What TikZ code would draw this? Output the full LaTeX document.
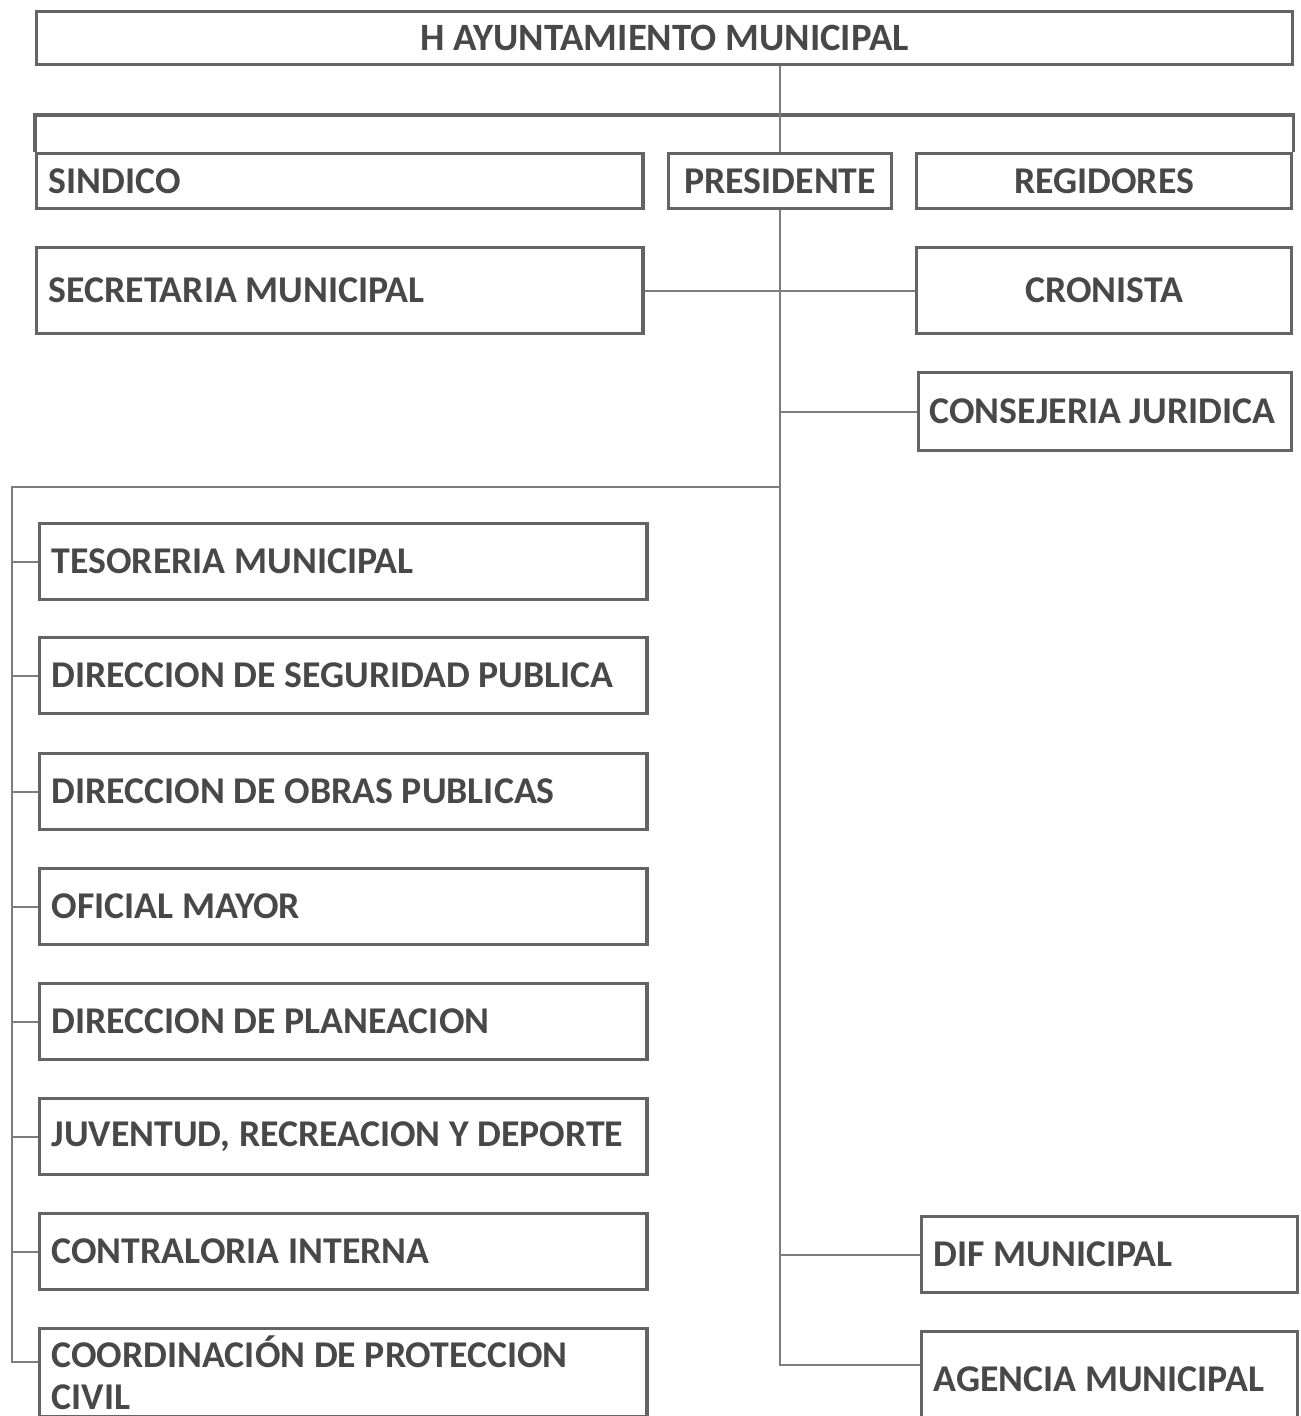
\documentclass[tikz,border=0pt]{standalone}
\usepackage{fontspec}
\setmainfont{Carlito}
\usepackage{xcolor}
\usepackage{tikz}
\definecolor{inkgray}{RGB}{72,72,72}
\definecolor{boxgray}{RGB}{100,100,100}
\definecolor{linegray}{RGB}{125,125,125}

\begin{document}
\begin{tikzpicture}[x=0.01cm, y=-0.01cm,
  box/.style={draw=boxgray, line width=0.9pt, text=inkgray,
    font=\bfseries\fontsize{10.75}{12.5}\selectfont, inner sep=0pt, anchor=north west},
  cbox/.style={box, align=center},
  lbox/.style={box, align=flush left, inner xsep=0.12cm},
  link/.style={draw=linegray, line width=0.6pt}]
  \useasboundingbox (0,0) rectangle (1301,1416);
  \clip (0,0) rectangle (1301,1416);

  % Ayuntamiento and first row
  \node[cbox, minimum width=12.55cm, minimum height=0.53cm,
    font=\bfseries\fontsize{11}{12.5}\selectfont] (ayunt) at (35,10)
    {H AYUNTAMIENTO MUNICIPAL};
  \node[lbox, text width=5.82cm, minimum height=0.55cm] (sindico) at (35,152) {SINDICO};
  \node[cbox, minimum width=2.23cm, minimum height=0.55cm] (presidente) at (667,152) {PRESIDENTE};
  \node[cbox, minimum width=3.75cm, minimum height=0.55cm] (regidores) at (915,152) {REGIDORES};
  \coordinate (frame) at (0,115);
  \draw[draw=boxgray, line width=0.9pt]
    (sindico.north west) -- (sindico.north west |- frame) -| (regidores.north east);
  \draw[link] (ayunt.south -| presidente.north) -- (presidente.north);

  % Secretaria, cronista, consejeria
  \node[lbox, text width=5.82cm, minimum height=0.86cm] (secretaria) at (35,246) {SECRETARIA MUNICIPAL};
  \node[cbox, minimum width=3.75cm, minimum height=0.86cm] (cronista) at (915,246) {CRONISTA};
  \node[lbox, inner xsep=0.11cm, text width=3.51cm, minimum height=0.78cm] (consejeria) at (917,371)
    {CONSEJERIA JURIDICA};
  \draw[link] (secretaria.east) -- (secretaria.east -| cronista.west);
  \draw[link] (presidente.south |- consejeria.west) -- (consejeria.west);

  % Left column
  \coordinate (bus) at (12,487);
  \foreach \y/\name/\txt in {522/tesoreria/TESORERIA MUNICIPAL,
      636/seguridad/DIRECCION DE SEGURIDAD PUBLICA,
      752/obras/DIRECCION DE OBRAS PUBLICAS,
      867/oficial/OFICIAL MAYOR,
      982/planeacion/DIRECCION DE PLANEACION,
      1097/juventud/{JUVENTUD, RECREACION Y DEPORTE},
      1212/contraloria/CONTRALORIA INTERNA} {
    \node[lbox, text width=5.83cm, minimum height=0.76cm] (\name) at (38,\y) {\txt};
    \draw[link] (bus |- \name.west) -- (\name.west);
  }
  \node[lbox, text width=5.83cm, minimum height=0.88cm,
    font=\bfseries\fontsize{10.75}{12}\selectfont] (coordinacion) at (38,1327)
    {COORDINACIÓN DE PROTECCION\\CIVIL};
  \draw[link] (presidente.south |- bus) -- (bus) |- ([yshift=-0.35cm]coordinacion.north west);

  % Right column, bottom
  \node[lbox, text width=3.52cm, minimum height=0.76cm] (dif) at (920,1215) {DIF MUNICIPAL};
  \node[lbox, text width=3.52cm, minimum height=0.95cm] (agencia) at (920,1330) {AGENCIA MUNICIPAL};
  \draw[link] (presidente.south |- dif.west) -- (dif.west);
  \draw[link] (presidente.south) |- ([yshift=-0.35cm]agencia.north west);
\end{tikzpicture}
\end{document}
